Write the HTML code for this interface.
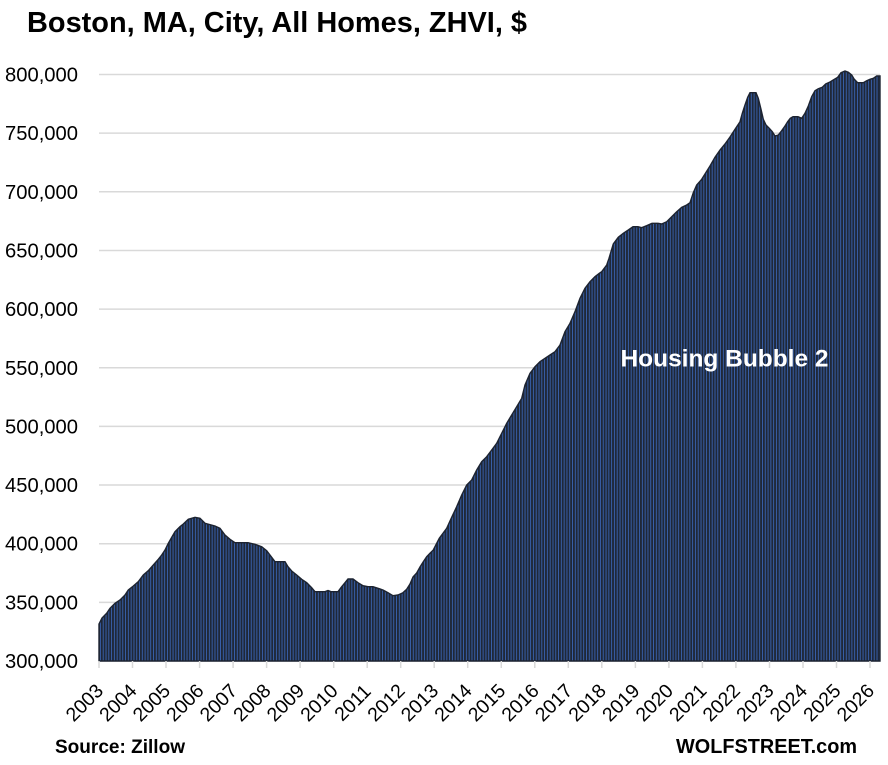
<!DOCTYPE html>
<html>
<head>
<meta charset="utf-8">
<style>
html,body{margin:0;padding:0;background:#fff;}
svg{display:block;}
text{font-family:"Liberation Sans",Arial,sans-serif;}
</style>
</head>
<body>
<svg width="888" height="765" viewBox="0 0 888 765" xmlns="http://www.w3.org/2000/svg">
<defs>
<pattern id="bars" patternUnits="userSpaceOnUse" x="99" y="0" width="2.7935" height="765">
<rect x="0" y="0" width="2.7935" height="765" fill="#1f2838"/>
<rect x="1.0" y="0" width="0.85" height="765" fill="#3a65b6"/>
</pattern>
</defs>
<rect width="888" height="765" fill="#fff"/>

<text x="27" y="32" font-size="28.5" font-weight="bold" fill="#000" textLength="500" lengthAdjust="spacingAndGlyphs">Boston, MA, City, All Homes, ZHVI, $</text>

<!-- gridlines -->
<g stroke="#d9d9d9" stroke-width="1.5">
<line x1="99" y1="74.5" x2="880" y2="74.5"/>
<line x1="99" y1="133.15" x2="880" y2="133.15"/>
<line x1="99" y1="191.8" x2="880" y2="191.8"/>
<line x1="99" y1="250.45" x2="880" y2="250.45"/>
<line x1="99" y1="309.1" x2="880" y2="309.1"/>
<line x1="99" y1="367.75" x2="880" y2="367.75"/>
<line x1="99" y1="426.4" x2="880" y2="426.4"/>
<line x1="99" y1="485.05" x2="880" y2="485.05"/>
<line x1="99" y1="543.7" x2="880" y2="543.7"/>
<line x1="99" y1="602.35" x2="880" y2="602.35"/>
<line x1="99" y1="661" x2="880" y2="661"/>
</g>

<!-- y labels -->
<g font-size="20" fill="#000" text-anchor="end">
<text x="78" y="81.5" textLength="73" lengthAdjust="spacingAndGlyphs">800,000</text>
<text x="78" y="140.15" textLength="73" lengthAdjust="spacingAndGlyphs">750,000</text>
<text x="78" y="198.8" textLength="73" lengthAdjust="spacingAndGlyphs">700,000</text>
<text x="78" y="257.45" textLength="73" lengthAdjust="spacingAndGlyphs">650,000</text>
<text x="78" y="316.1" textLength="73" lengthAdjust="spacingAndGlyphs">600,000</text>
<text x="78" y="374.75" textLength="73" lengthAdjust="spacingAndGlyphs">550,000</text>
<text x="78" y="433.4" textLength="73" lengthAdjust="spacingAndGlyphs">500,000</text>
<text x="78" y="492.05" textLength="73" lengthAdjust="spacingAndGlyphs">450,000</text>
<text x="78" y="550.7" textLength="73" lengthAdjust="spacingAndGlyphs">400,000</text>
<text x="78" y="609.35" textLength="73" lengthAdjust="spacingAndGlyphs">350,000</text>
<text x="78" y="668" textLength="73" lengthAdjust="spacingAndGlyphs">300,000</text>
</g>

<!-- bars area -->
<polygon fill="url(#bars)" stroke="#1c2331" stroke-width="1.4" stroke-linejoin="miter" points="
99,661 99,624 102,618 106.7,613.3 110,608.3 115,603.3 120,600 125,595 128.3,590 133.3,586 138.3,581.7 143.3,575 148.3,570.7 153.3,565 158.3,559.3 161.7,555 165,550 168.3,543.3 171.7,537.3 175,531.7 180,526.7 183.3,524 188.3,519.3 195,517.3 200,518.3 205,523.3 215,526 220,528.3 225,535 230,539.3 235,542.7 248,542.7 255,544.3 261.7,546.7 266.7,550.7 271.7,557.3 275,561.7 285,561.7 288,566.7 291.7,571 296.7,575 301.7,579.3 306.7,582.7 311.7,587.7 315,591.7 325,591.7 328,590.5 331,591.7 338,591.7 341.7,586.7 345,582.7 348,579 353,579 358,582.7 363,585.7 368,586.7 373,586.7 378,588.3 383,590 388,592.7 393,595.7 398,595 403,592.7 406.7,589.3 410,584 413,577 416.7,573 420,567 423.3,561.7 426.7,556.7 430,553.3 433.3,550 436.7,543.3 439.3,538.3 441.7,535 446.7,528.3 451.7,517.3 456.7,506.7 461.7,495 466.7,485 471.7,480 476.7,470 481.7,461.7 486.7,456.7 491.7,450 496.7,443.3 501.7,433.3 506.7,423.3 511.7,415 516.7,406.7 521.7,398.3 525,385 530,373.3 535,366.7 540,361.7 545,358.3 550,355 555,351.7 560,345 565,331.7 570,323.3 575,311.7 580,298.3 585,288.3 590,281.7 595,276.7 599.3,273.3 601.7,271.7 606.7,265 609,258.3 613.3,244 618.3,237.3 623.3,233.3 628.3,230 633,226.7 638,226.7 641.7,227.7 646.7,225.7 652,223.3 658,223.3 661.7,224 666.7,221.7 671.7,216.7 676.7,211.7 681.7,207.3 686.7,205 690,202.7 693.3,192.7 696.7,185 701.7,179.3 705,174 710,166 715,157.3 720,150 725,144 730,137 736.7,126.7 740,121.7 742.3,113.3 745,105 747.7,97.3 750,92.7 756,92.7 758.3,98.3 761,109.3 763.3,119.3 766,125 769.3,128.3 772.3,131.7 775,136 778.3,135 781.7,130.7 785,126 787.7,121.7 790.3,118.3 793,116.7 798,116.7 801.7,118.3 805,113.3 808.3,106 811.7,96.7 815,90.7 818.3,88.7 822.3,87.3 825.7,84 830,82 834.3,79.3 837.7,77.3 841,72.7 845,71 848.3,72.3 851.7,75 854.3,79.3 857.7,82.7 863.3,82.7 866.7,80.7 870,79.3 873.3,78.3 876.7,76 880,76 880,661"/>

<!-- ticks -->
<g stroke="#d9d9d9" stroke-width="1.5">
<line x1="99" y1="661" x2="99" y2="668"/>
<line x1="132.5" y1="661" x2="132.5" y2="668"/>
<line x1="166" y1="661" x2="166" y2="668"/>
<line x1="199.6" y1="661" x2="199.6" y2="668"/>
<line x1="233.1" y1="661" x2="233.1" y2="668"/>
<line x1="266.6" y1="661" x2="266.6" y2="668"/>
<line x1="300.1" y1="661" x2="300.1" y2="668"/>
<line x1="333.7" y1="661" x2="333.7" y2="668"/>
<line x1="367.2" y1="661" x2="367.2" y2="668"/>
<line x1="400.7" y1="661" x2="400.7" y2="668"/>
<line x1="434.2" y1="661" x2="434.2" y2="668"/>
<line x1="467.7" y1="661" x2="467.7" y2="668"/>
<line x1="501.3" y1="661" x2="501.3" y2="668"/>
<line x1="534.8" y1="661" x2="534.8" y2="668"/>
<line x1="568.3" y1="661" x2="568.3" y2="668"/>
<line x1="601.8" y1="661" x2="601.8" y2="668"/>
<line x1="635.4" y1="661" x2="635.4" y2="668"/>
<line x1="668.9" y1="661" x2="668.9" y2="668"/>
<line x1="702.4" y1="661" x2="702.4" y2="668"/>
<line x1="735.9" y1="661" x2="735.9" y2="668"/>
<line x1="769.5" y1="661" x2="769.5" y2="668"/>
<line x1="803" y1="661" x2="803" y2="668"/>
<line x1="836.5" y1="661" x2="836.5" y2="668"/>
<line x1="870" y1="661" x2="870" y2="668"/>
</g>

<!-- x labels -->
<g font-size="19.5" fill="#000" text-anchor="middle">
<text transform="translate(84.2,702.5) rotate(-45)" dy="0.35em">2003</text>
<text transform="translate(117.7,702.5) rotate(-45)" dy="0.35em">2004</text>
<text transform="translate(151.2,702.5) rotate(-45)" dy="0.35em">2005</text>
<text transform="translate(184.8,702.5) rotate(-45)" dy="0.35em">2006</text>
<text transform="translate(218.3,702.5) rotate(-45)" dy="0.35em">2007</text>
<text transform="translate(251.8,702.5) rotate(-45)" dy="0.35em">2008</text>
<text transform="translate(285.3,702.5) rotate(-45)" dy="0.35em">2009</text>
<text transform="translate(318.9,702.5) rotate(-45)" dy="0.35em">2010</text>
<text transform="translate(352.4,702.5) rotate(-45)" dy="0.35em">2011</text>
<text transform="translate(385.9,702.5) rotate(-45)" dy="0.35em">2012</text>
<text transform="translate(419.4,702.5) rotate(-45)" dy="0.35em">2013</text>
<text transform="translate(452.9,702.5) rotate(-45)" dy="0.35em">2014</text>
<text transform="translate(486.5,702.5) rotate(-45)" dy="0.35em">2015</text>
<text transform="translate(520,702.5) rotate(-45)" dy="0.35em">2016</text>
<text transform="translate(553.5,702.5) rotate(-45)" dy="0.35em">2017</text>
<text transform="translate(587,702.5) rotate(-45)" dy="0.35em">2018</text>
<text transform="translate(620.6,702.5) rotate(-45)" dy="0.35em">2019</text>
<text transform="translate(654.1,702.5) rotate(-45)" dy="0.35em">2020</text>
<text transform="translate(687.6,702.5) rotate(-45)" dy="0.35em">2021</text>
<text transform="translate(721.1,702.5) rotate(-45)" dy="0.35em">2022</text>
<text transform="translate(754.7,702.5) rotate(-45)" dy="0.35em">2023</text>
<text transform="translate(788.2,702.5) rotate(-45)" dy="0.35em">2024</text>
<text transform="translate(821.7,702.5) rotate(-45)" dy="0.35em">2025</text>
<text transform="translate(855.2,702.5) rotate(-45)" dy="0.35em">2026</text>
</g>

<text x="620.5" y="366.7" font-size="24.5" font-weight="bold" fill="#fff" textLength="208" lengthAdjust="spacingAndGlyphs">Housing Bubble 2</text>

<text x="55" y="753" font-size="19" font-weight="bold" fill="#000" textLength="130" lengthAdjust="spacingAndGlyphs">Source: Zillow</text>
<text x="676" y="753" font-size="20" font-weight="bold" fill="#000" textLength="181" lengthAdjust="spacingAndGlyphs">WOLFSTREET.com</text>
</svg>
</body>
</html>
